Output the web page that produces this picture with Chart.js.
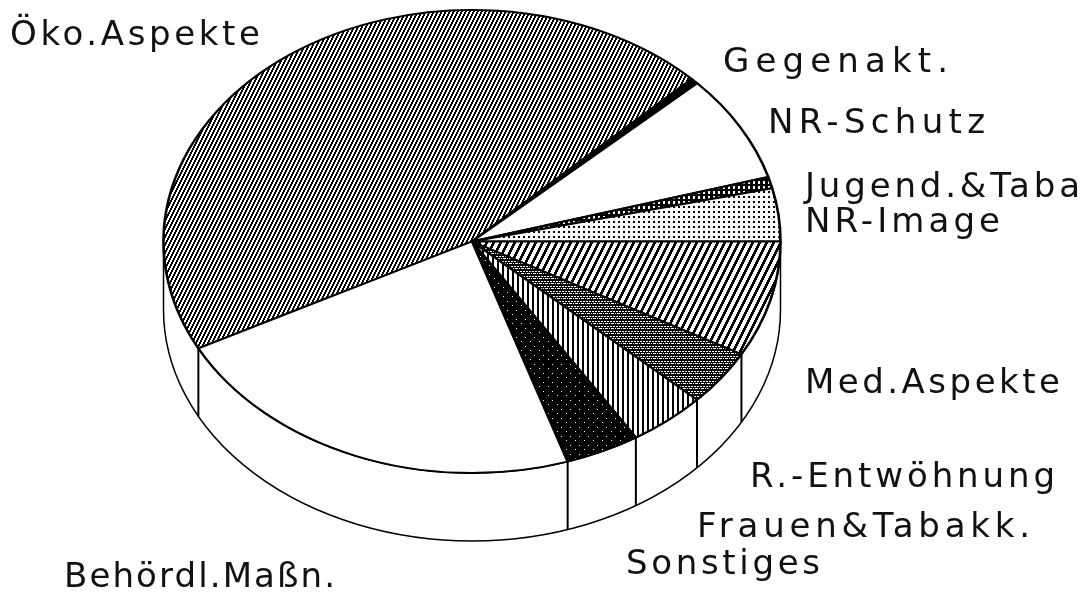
<!DOCTYPE html>
<html>
<head>
<meta charset="utf-8">
<title>Pie</title>
<script src="https://cdn.jsdelivr.net/npm/chart.js@4"></script>
<style>
  html, body { margin: 0; background: #fff; }
  canvas { display: block; }
</style>
</head>
<body>
<canvas id="myChart" width="1091" height="593"></canvas>
<script>
// clockwise from the left rim, values in percent
const categories = ['Öko.Aspekte', 'Gegenakt.', 'NR-Schutz', 'Jugend.&Taba', 'NR-Image', 'Med.Aspekte', 'R.-Entwöhnung', 'Frauen&Tabakk.', 'Sonstiges', 'Behördl.Maßn.'];
const values = [45.3, 0.4, 7.5, 0.8, 3.7, 8.1, 3.9, 4.1, 3.9, 22.4];
const startAngle = 242.5;

// ellipse of the top face and height of the side wall
const cx = 472, cy = 241.5, rx = 308.5, ry = 231.5, depth = 68;

// label: x, baseline, right end
const labelPos = [
  [10, 45, 260], [723, 72, 948], [768, 133, 985], [805, 197, 1080], [805, 232, 1000],
  [805, 393, 1060], [750, 487, 1055], [697, 537, 1030], [626, 574, 820], [64, 587, 335]
];

function tile(w, h, draw) {
  const c = document.createElement('canvas');
  c.width = w; c.height = h;
  const g = c.getContext('2d');
  g.fillStyle = '#fff';
  g.fillRect(0, 0, w, h);
  g.fillStyle = '#000';
  draw(g);
  return g.createPattern(c, 'repeat');
}

// hatch leaning right, 1px across for every 2px down
function hatch(period, bar) {
  return tile(period, period * 2, g => {
    for (let y = 0; y < period * 2; y++) {
      const x = period - 1 - Math.floor(y / 2);
      g.fillRect(x, y, bar, 1);
      g.fillRect(x - period, y, bar, 1);
    }
  });
}

const patEco = hatch(4, 2);
const patMed = hatch(7, 3);
const patDots = tile(5, 5, g => g.fillRect(1, 1, 2, 2));
const patJugend = tile(5, 5, g => {
  g.fillRect(0, 0, 5, 5);
  g.fillStyle = '#fff';
  g.fillRect(1, 1, 2, 3);
});
const patCross = tile(6, 5, g => {
  g.fillRect(0, 0, 6, 5);
  g.fillStyle = '#fff';
  g.fillRect(0, 1, 2, 1);
  g.fillRect(3, 1, 2, 1);
  g.fillRect(1, 3, 3, 1);
  g.fillRect(5, 3, 1, 1);
});
const patVert = tile(5, 5, g => g.fillRect(0, 0, 2, 5));
const patSonst = tile(9, 9, g => {
  g.fillRect(0, 0, 9, 9);
  g.fillStyle = '#fff';
  g.fillRect(2, 3, 1, 1);
  g.fillRect(7, 7, 1, 1);
});
const patterns = [patEco, '#000', '#fff', patJugend, patDots, patMed, patCross, patVert, patSonst, '#fff'];

const pieShape = {
  id: 'pieShape',
  beforeDatasetsDraw(chart) {
    const ctx = chart.ctx;
    const arcs = chart.getDatasetMeta(0).data;
    const r = arcs[0].outerRadius;
    const sx = rx / r, sy = ry / r;

    // side wall
    ctx.save();
    ctx.fillStyle = '#fff';
    ctx.strokeStyle = '#000';
    ctx.lineWidth = 1.5;
    ctx.beginPath();
    ctx.ellipse(cx, cy, rx, ry, 0, 0, Math.PI);
    ctx.lineTo(cx - rx, cy + depth);
    ctx.ellipse(cx, cy + depth, rx, ry, 0, Math.PI, 0, true);
    ctx.closePath();
    ctx.fill();
    ctx.stroke();
    ctx.lineWidth = 2;
    arcs.forEach(a => {
      const s = Math.sin(a.endAngle);
      if (s > 0.01) {
        const x = cx + rx * Math.cos(a.endAngle);
        const y = cy + ry * s;
        ctx.beginPath();
        ctx.moveTo(x, y);
        ctx.lineTo(x, y + depth);
        ctx.stroke();
      }
    });
    ctx.restore();

    // squash the round pie to the ellipse, patterns stay on the pixel grid
    const m = new DOMMatrix().scale(1 / sx, 1 / sy).translate(0, 0.5);
    patterns.forEach(p => { if (typeof p !== 'string') p.setTransform(m); });
    ctx.save();
    ctx.imageSmoothingEnabled = false;
    ctx.translate(cx, cy);
    ctx.scale(sx, sy);
    ctx.translate(-arcs[0].x, -arcs[0].y);
  },
  afterDatasetsDraw(chart) {
    chart.ctx.restore();
  },
  afterDraw(chart) {
    const ctx = chart.ctx;
    ctx.save();
    ctx.fillStyle = '#111';
    ctx.font = '34px "DejaVu Sans"';
    ctx.textBaseline = 'alphabetic';
    categories.forEach((t, i) => {
      const [x, y, end] = labelPos[i];
      ctx.letterSpacing = '0px';
      const w = ctx.measureText(t).width;
      ctx.letterSpacing = ((end - x - w) / (t.length - 1)) + 'px';
      ctx.fillText(t, x, y);
    });
    ctx.restore();
  }
};

new Chart(document.getElementById('myChart'), {
  type: 'pie',
  data: {
    labels: categories,
    datasets: [{
      data: values,
      backgroundColor: patterns,
      borderColor: '#000',
      borderWidth: 2.5,
      borderJoinStyle: 'bevel',
      clip: false
    }]
  },
  options: {
    responsive: false,
    animation: false,
    rotation: startAngle,
    layout: { padding: 0 },
    events: [],
    plugins: {
      legend: { display: false },
      tooltip: { enabled: false },
      title: { display: false }
    }
  },
  plugins: [pieShape]
});
</script>
</body>
</html>
